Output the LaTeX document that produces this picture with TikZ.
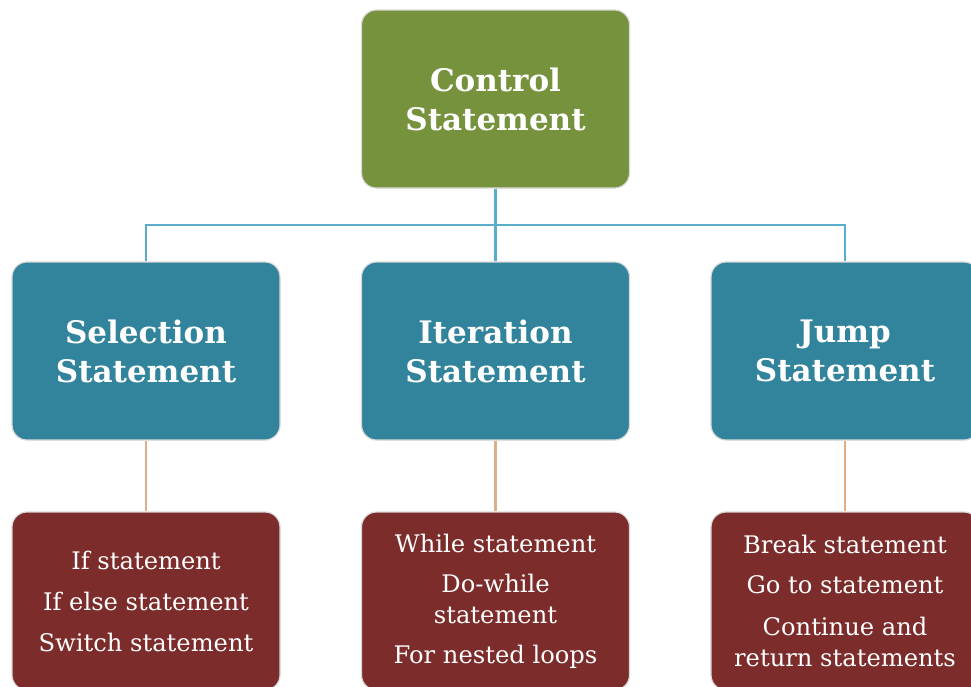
\documentclass[tikz,border=0pt]{standalone}
\usepackage{fontspec}
\setmainfont{DejaVu Serif}
\definecolor{topgreen}{HTML}{76923C}
\definecolor{midteal}{HTML}{31849B}
\definecolor{lowred}{HTML}{7B2C2B}
\definecolor{bluelink}{HTML}{5AAECB}
\definecolor{tanlink}{HTML}{DDAE88}
\definecolor{rimgray}{HTML}{D8D8D8}
\tikzset{
  card/.style={draw=rimgray, line width=1.2pt, rounded corners=15pt, inner sep=0pt,
    minimum width=268pt, text=white, align=center},
  headcard/.style={card, fill=topgreen, minimum height=178pt,
    font=\fontsize{31}{39}\selectfont\bfseries},
  midcard/.style={card, fill=midteal, minimum height=178pt,
    font=\fontsize{31}{39}\selectfont\bfseries},
  lowcard/.style={card, fill=lowred, minimum height=178pt,
    font=\fontsize{24.2}{31}\selectfont},
  bluewire/.style={draw=bluelink, line width=2.5pt},
  tanwire/.style={draw=tanlink, line width=2.5pt}
}
\begin{document}
\begin{tikzpicture}[x=1pt,y=-1pt]
\clip (0,0) rectangle (971,686);
\fill[white] (0,0) rectangle (971,686);
\node[headcard] (ctrl) at (495.5,99) {Control\\Statement};
\node[midcard] (sel) at (146,351) {Selection\\Statement};
\node[midcard] (itr) at (495.5,351) {Iteration\\Statement};
\node[midcard] (jmp) at (845,351) {Jump\\Statement};
\node[lowcard] (selx) at (146,601) {If statement\\[10pt]If else statement\\[10pt]Switch statement};
\node[lowcard] (itrx) at (495.5,601) {While statement\\[9pt]Do-while\\statement\\[9pt]For nested loops};
\node[lowcard] (jmpx) at (845,601) {Break statement\\[9pt]Go to statement\\[11pt]Continue and\\return statements};
\coordinate (bus) at (495.5,225);
\draw[bluewire] (ctrl.south) -- (bus);
\draw[bluewire] (bus) -| (sel.north);
\draw[bluewire] (bus) -| (jmp.north);
\draw[bluewire] (bus) -- (itr.north);
\draw[tanwire] (sel.south) -- (selx.north);
\draw[tanwire] (itr.south) -- (itrx.north);
\draw[tanwire] (jmp.south) -- (jmpx.north);
\end{tikzpicture}
\end{document}
